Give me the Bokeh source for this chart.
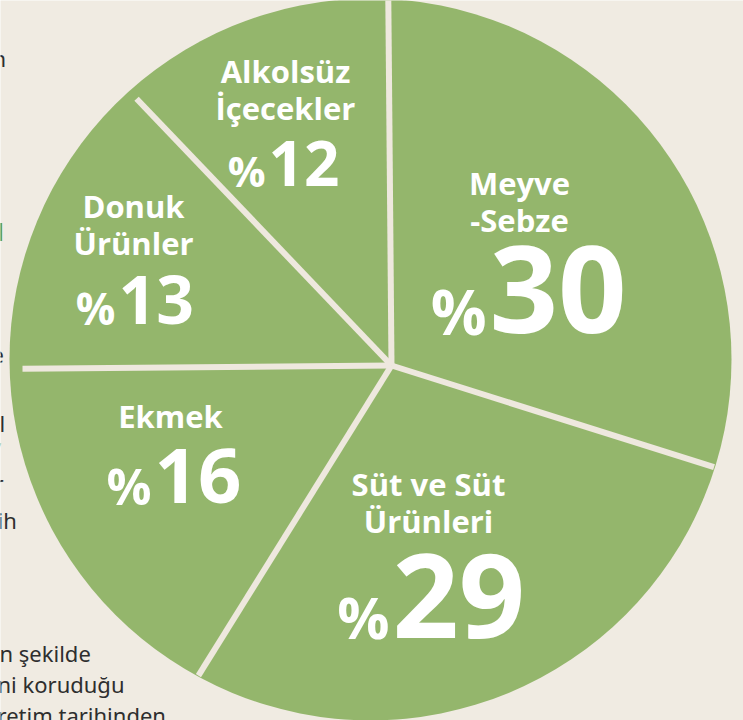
import math
from bokeh.plotting import figure
from bokeh.models import Range1d
from bokeh.core.properties import value
from bokeh.embed import file_html
from bokeh.resources import INLINE

# ---- data ----
categories = ["Meyve\n-Sebze", "Süt ve Süt\nÜrünleri", "Ekmek", "Donuk\nÜrünler", "Alkolsüz\nİçecekler"]
shares = [30, 29, 16, 13, 12]

# ---- layout (positions / styles) ----
W, H = 743, 720
BG = "#f0ebe2"
GREEN = "#94b66c"
DISC_X, DISC_Y, DISC_R = 370, 359, 361
HUB_X, HUB_Y = 391, 365
SPOKE_LEN = 369
START_DEG = 90.5
SHIFT = 0.36  # empirical baseline correction (fraction of font size)

name_x = [519, 428, 170, 133, 285]
name_base = [194, 495, 427, 217, 82]
pct_split = [488, 391, 153, 117, 267]
pct_base = [333, 637, 503, 323, 185]
pct_sign_size = [62, 58, 50, 44, 42]
pct_num_size = [120, 116, 76, 66, 62]
name_size = 31
line_gap = 37


def by(ref, size):
    return ref - SHIFT * size


p = figure(width=W, height=H, x_range=Range1d(0, W), y_range=Range1d(H, 0),
           output_backend="svg", toolbar_location=None, min_border=0,
           background_fill_color=BG, border_fill_color=BG)
p.axis.visible = False
p.grid.visible = False
p.outline_line_color = None

# disc
p.circle(x=[DISC_X], y=[DISC_Y], radius=DISC_R, fill_color=GREEN, line_color=None)


def ray_to_circle(hx, hy, dx, dy):
    fx, fy = hx - DISC_X, hy - DISC_Y
    b = fx * dx + fy * dy
    c = fx * fx + fy * fy - DISC_R ** 2
    return -b + math.sqrt(b * b - c)


# spokes from cumulative shares
total = sum(shares)
xs, ys = [], []
ang = START_DEG
for s in shares:
    rad = math.radians(ang)
    dx, dy = math.cos(rad), -math.sin(rad)
    L = min(SPOKE_LEN, ray_to_circle(HUB_X, HUB_Y, dx, dy) - 1)
    xs.append([HUB_X, HUB_X + dx * L])
    ys.append([HUB_Y, HUB_Y + dy * L])
    ang -= 360.0 * s / total
p.multi_line(xs=xs, ys=ys, line_color="#eee8de", line_width=6, line_cap="butt")

# category names
tx, ty, tt = [], [], []
for i, c in enumerate(categories):
    for j, line in enumerate(c.split("\n")):
        tx.append(name_x[i])
        ty.append(by(name_base[i] + j * line_gap, name_size))
        tt.append(line)
p.text(x=tx, y=ty, text=tt, text_align="center", text_baseline="alphabetic",
       text_font=value("Open Sans"), text_font_style="bold",
       text_font_size=f"{name_size}px", text_color="white")

# percentages
for i, s in enumerate(shares):
    p.text(x=[pct_split[i] - 2], y=[by(pct_base[i], pct_sign_size[i])], text=["%"],
           text_align="right", text_baseline="alphabetic", text_font=value("Open Sans"),
           text_font_style="bold", text_font_size=f"{pct_sign_size[i]}px", text_color="white")
    p.text(x=[pct_split[i] + 1], y=[by(pct_base[i], pct_num_size[i])], text=[str(s)],
           text_align="left", text_baseline="alphabetic", text_font=value("Open Sans"),
           text_font_style="bold", text_font_size=f"{pct_num_size[i]}px", text_color="white")

# cut-off article text fragments at left edge
frag_text = ["n", "e", "l", "r", "ih", "n şekilde", "ni  koruduğu", "retim tarihinden"]
frag_x = [-8, -9, -1, -6, -3, -1, -3, -3]
frag_base = [65, 362, 430, 490, 527, 660, 691, 722]
p.text(x=frag_x, y=[by(v, 22) for v in frag_base], text=frag_text, text_align="left",
       text_baseline="alphabetic", text_font=value("Noto Sans"), text_font_size="22px",
       text_color="#2e2e2e")
p.text(x=[-12, -5], y=[by(240, 24), by(446, 24)], text=["d", ","], text_align="left",
       text_baseline="alphabetic", text_font=value("Noto Sans"), text_font_style="bold",
       text_font_size="24px", text_color="#5a9a2a")

open("out.html", "w").write(file_html(p, INLINE))
